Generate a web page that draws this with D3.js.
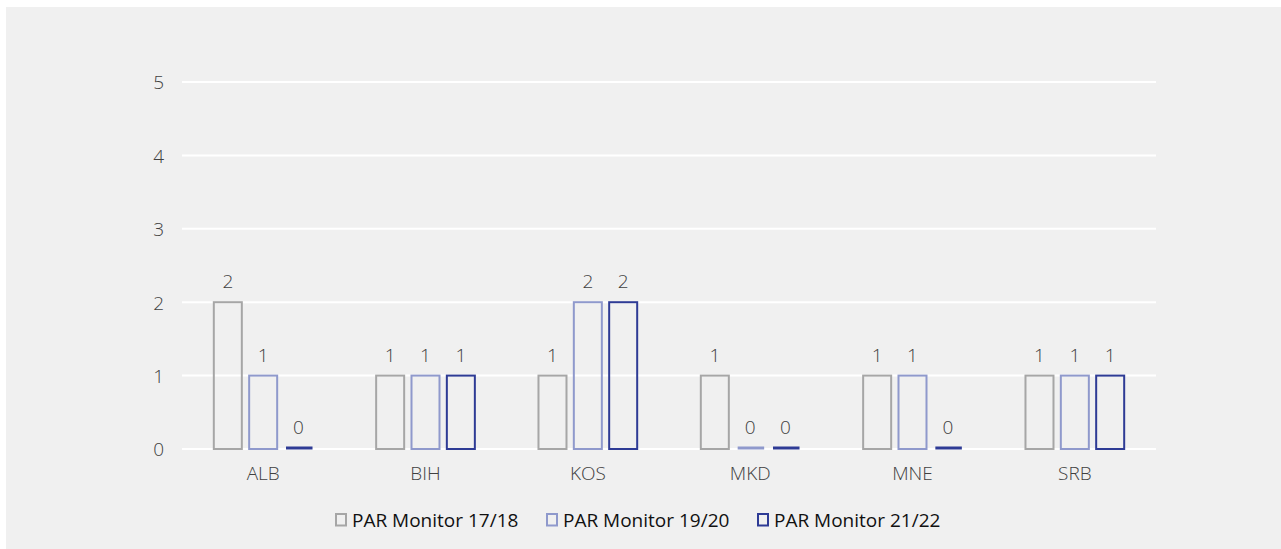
<!DOCTYPE html>
<html><head><meta charset="utf-8">
<script src="https://cdn.jsdelivr.net/npm/d3@7"></script>
<style>
html,body{margin:0;padding:0;background:#fff;}
svg{display:block;}
text{font-family:"Open Sans","Noto Sans",sans-serif;}
</style></head>
<body>
<svg id="chart" width="1281" height="549"></svg>
<script>
const categories = ["ALB","BIH","KOS","MKD","MNE","SRB"];
const seriesNames = ["PAR Monitor 17/18","PAR Monitor 19/20","PAR Monitor 21/22"];
const s1718 = [2,1,1,1,1,1];
const s1920 = [1,1,2,0,1,1];
const s2122 = [0,1,2,0,0,1];
const yTicks = [0,1,2,3,4,5];
const colors = ["#A6A6A6","#8F99CC","#2E3B95"];

const series = [s1718, s1920, s2122];
const svg = d3.select("#chart");
svg.append("rect").attr("x",6).attr("y",7).attr("width",1275).attr("height",542).attr("fill","#F0F0F0");

const x0 = d3.scaleBand().domain(categories).range([182,1156]).paddingInner(0).paddingOuter(0);
const groupW = 100.7;
const x1 = d3.scaleBand().domain(seriesNames).range([0,groupW]).paddingInner(0.151).paddingOuter(0);
const y = d3.scaleLinear().domain([0,5]).range([449,82]);

// gridlines
svg.append("g").selectAll("line").data(yTicks).join("line")
  .attr("x1",182).attr("x2",1156)
  .attr("y1",d=>y(d)).attr("y2",d=>y(d))
  .attr("stroke","#fff").attr("stroke-width",2);

// y axis labels
const yAxis = d3.axisLeft(y).tickValues(yTicks).tickSize(0).tickPadding(0).tickFormat(d3.format("d"));
const ya = svg.append("g").attr("transform","translate(164,0)").call(yAxis);
ya.select(".domain").remove();
ya.selectAll("text").attr("font-size",19).attr("fill","#404040").attr("font-weight",300).attr("dy","0.36em");

// x axis labels
const xAxis = d3.axisBottom(x0).tickSize(0).tickPadding(0);
const xa = svg.append("g").attr("transform","translate(0,480)").call(xAxis);
xa.select(".domain").remove();
xa.selectAll("text").attr("font-size",19).attr("fill","#404040").attr("font-weight",300).attr("y",0).attr("dy",0);

// bars
const rows = categories.map((c,i)=>({cat:c, vals: series.map((s,j)=>({name:seriesNames[j], v:s[i], j}))}));
const g = svg.append("g").selectAll("g").data(rows).join("g")
  .attr("transform",d=>`translate(${x0(d.cat)+x0.bandwidth()/2-groupW/2},0)`);

g.each(function(d){
  const gg = d3.select(this);
  d.vals.forEach(b=>{
    const bx = x1(b.name), bw = x1.bandwidth();
    if (b.v>0) {
      gg.append("rect").attr("x",bx+1).attr("y",y(b.v)).attr("width",bw-2).attr("height",y(0)-y(b.v))
        .attr("fill","none").attr("stroke",colors[b.j]).attr("stroke-width",2);
    } else {
      gg.append("line").attr("x1",bx+2.5).attr("x2",bx+bw-1).attr("y1",y(0)-1).attr("y2",y(0)-1)
        .attr("stroke",colors[b.j]).attr("stroke-width",3);
    }
    gg.append("text").attr("x",bx+bw/2).attr("y",y(b.v)-(b.v>0?14:15))
      .attr("text-anchor","middle").attr("font-size",19).attr("font-weight",300).attr("fill","#404040").text(b.v);
  });
});

// legend
const legendX = [335, 546, 757];
const lg = svg.append("g").selectAll("g").data(seriesNames).join("g")
  .attr("transform",(d,i)=>`translate(${legendX[i]},0)`);
lg.append("rect").attr("x",1).attr("y",514).attr("width",10).attr("height",11.5)
  .attr("fill","none").attr("stroke",(d,i)=>colors[i]).attr("stroke-width",2);
lg.append("text").attr("x",17).attr("y",527).attr("font-size",19).attr("fill","#111").text(d=>d);
</script>
</body></html>
